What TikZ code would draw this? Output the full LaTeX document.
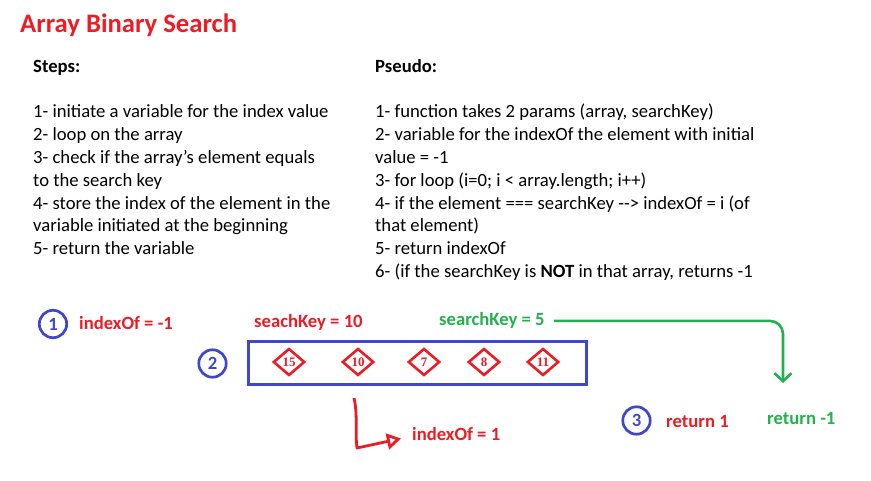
\documentclass[tikz,border=0pt]{standalone}
\usepackage{fontspec}
\setmainfont{Carlito}
\newfontfamily\numfont{Liberation Serif}
\usepackage{tikz}
\usetikzlibrary{arrows.meta,positioning,shapes.geometric}
\definecolor{paintred}{HTML}{ED1C24}
\definecolor{paintblue}{HTML}{3F48CC}
\definecolor{paintgreen}{HTML}{22B14C}
\newcommand{\bodyfont}{\fontsize{18.67}{22.8}\selectfont}
\tikzset{
  txt/.style={anchor=base west,inner sep=0pt,font=\bodyfont},
  boldtxt/.style={txt,font=\bodyfont\bfseries},
  redtxt/.style={boldtxt,text=paintred},
  greentxt/.style={boldtxt,text=paintgreen},
  stepcircle/.style={circle,draw=paintblue,line width=2.7pt,minimum size=27.4pt,inner sep=0pt,text=paintblue,font=\bodyfont\bfseries},
  arraybox/.style={draw=paintblue,line width=3pt,minimum width=338pt,minimum height=43pt,inner sep=0pt},
  cell/.style={diamond,draw=paintred,line width=2.6pt,minimum width=31.5pt,minimum height=27pt,inner sep=0pt,text=paintred,font=\numfont\fontsize{13}{13}\selectfont\bfseries},
  greenarrow/.style={-{Straight Barb[length=8pt,width=17pt]},paintgreen,line width=2.6pt,rounded corners=13pt},
  redarrow/.style={-{Triangle[open,length=14pt,width=16pt]},paintred,line width=2.8pt,line join=round}
}
\begin{document}
\begin{tikzpicture}[x=1pt,y=-1pt]
\useasboundingbox (0,0) rectangle (871,481);
\node[txt,font=\fontsize{26.67}{32}\selectfont\bfseries,text=paintred] (title) at (20,33) {Array Binary Search};
\node[boldtxt] (steps) at (33,73) {Steps:};
\node[boldtxt] (pseudo) at (375,73) {Pseudo:};
\foreach \t [count=\i] in {{1- initiate a variable for the index value},{2- loop on the array},{3- check if the array's element equals},{to the search key},{4- store the index of the element in the},{variable initiated at the beginning},{5- return the variable}}{\node[txt] (stepline\i) at (33,{118+22.8*(\i-1)}) {\t};}
\foreach \t [count=\i] in {{1- function takes 2 params (array, searchKey)},{2- variable for the indexOf the element with initial},{value = -1},{3- for loop (i=0; i < array.length; i++)},{4- if the element === searchKey \mbox{-}\mbox{-}> indexOf = i (of},{that element)},{5- return indexOf},{6- (if the searchKey is \textbf{NOT} in that array, returns -1}}{\node[txt] (pseudoline\i) at (375,{118+22.8*(\i-1)}) {\t};}
\node[stepcircle] (one) at (53,324) {1};
\node[redtxt] (idxinit) at (79,330) {indexOf = -1};
\node[redtxt] (key10) at (254,328) {seachKey = 10};
\node[greentxt] (key5) at (439,326) {searchKey = 5};
\node[stepcircle] (two) at (212.5,363.5) {2};
\node[arraybox] (arr) at (417.5,363) {};
\foreach \v/\x [count=\i] in {15/289,10/358,7/424,8/484,11/543}{\node[cell] (cell\i) at (\x,362) {\v};}
\node[stepcircle] (three) at (636.5,420.5) {3};
\node[redtxt] (ret1) at (666,427) {return 1};
\node[greentxt] (retneg) at (767,424) {return -1};
\node[redtxt] (idxfound) at (412,440) {indexOf = 1};
\coordinate (gend) at (783,383);
\coordinate (rstart) at (354,398);
\coordinate (rturn) at (357,448);
\draw[greenarrow] ([xshift=9pt]key5.east) -| (gend);
\draw[redarrow] (rstart) .. controls (358,415) and (355,435) .. (rturn) -- ([shift={(-11pt,-5pt)}]idxfound.west);
\end{tikzpicture}
\end{document}
